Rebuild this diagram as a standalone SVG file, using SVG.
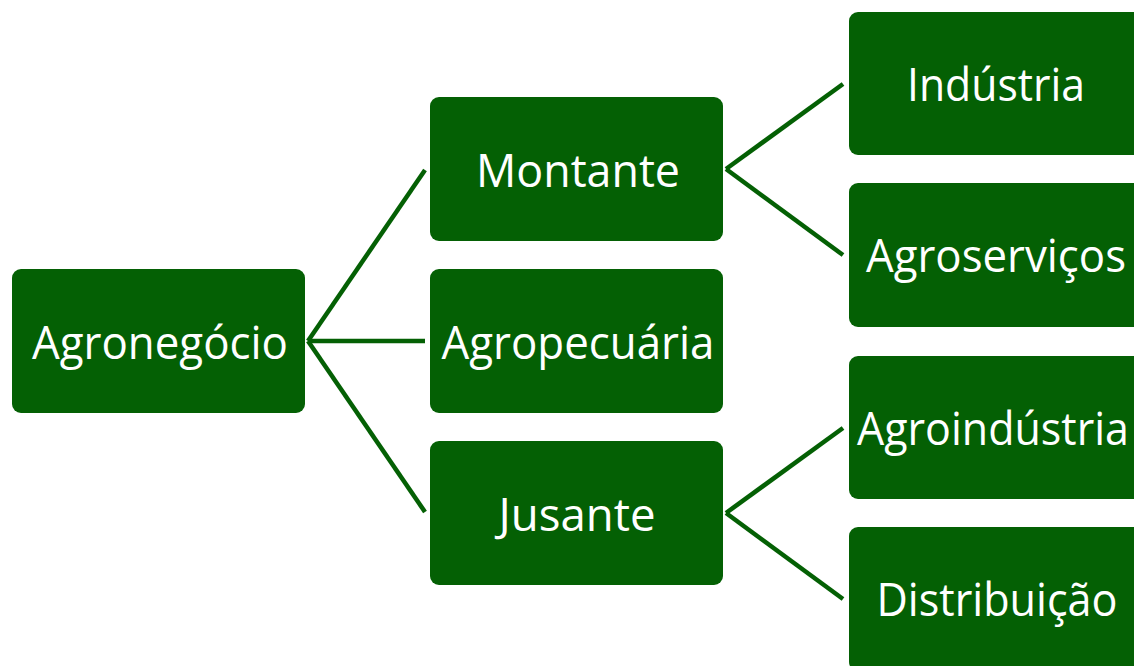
<svg xmlns="http://www.w3.org/2000/svg" width="1134" height="666" viewBox="0 0 1134 666">
<style>
.box{fill:#046004;}
.lbl{fill:#ffffff;font-family:"Open Sans","Liberation Sans",sans-serif;font-size:45px;text-anchor:middle;}
.conn{stroke:#046004;stroke-width:4.5;fill:none;}
</style>
<rect width="1134" height="666" fill="#ffffff"/>
<g id="connectors">
<line class="conn" x1="308" y1="341" x2="425" y2="170"/>
<line class="conn" x1="308" y1="341" x2="425" y2="341"/>
<line class="conn" x1="308" y1="341" x2="425" y2="512"/>
<line class="conn" x1="726" y1="169" x2="843" y2="84"/>
<line class="conn" x1="726" y1="169" x2="843" y2="255"/>
<line class="conn" x1="726" y1="513" x2="843" y2="428"/>
<line class="conn" x1="726" y1="513" x2="843" y2="599"/>
</g>
<g id="agronegocio"><rect class="box" x="12" y="269" width="293" height="144" rx="9"/><text class="lbl" x="160" y="359" textLength="256" lengthAdjust="spacingAndGlyphs">Agronegócio</text></g>
<g id="montante"><rect class="box" x="430" y="97" width="293" height="144" rx="9"/><text class="lbl" x="578" y="187" textLength="204" lengthAdjust="spacingAndGlyphs">Montante</text></g>
<g id="agropecuaria"><rect class="box" x="430" y="269" width="293" height="144" rx="9"/><text class="lbl" x="578" y="359" textLength="273" lengthAdjust="spacingAndGlyphs">Agropecuária</text></g>
<g id="jusante"><rect class="box" x="430" y="441" width="293" height="144" rx="9"/><text class="lbl" x="577" y="531" textLength="157" lengthAdjust="spacingAndGlyphs">Jusante</text></g>
<g id="industria"><rect class="box" x="849" y="12" width="293" height="143" rx="9"/><text class="lbl" x="996" y="101" textLength="178" lengthAdjust="spacingAndGlyphs">Indústria</text></g>
<g id="agroservicos"><rect class="box" x="849" y="183" width="293" height="144" rx="9"/><text class="lbl" x="996" y="272" textLength="260" lengthAdjust="spacingAndGlyphs">Agroserviços</text></g>
<g id="agroindustria"><rect class="box" x="849" y="356" width="293" height="143" rx="9"/><text class="lbl" x="993" y="445" textLength="272" lengthAdjust="spacingAndGlyphs">Agroindústria</text></g>
<g id="distribuicao"><rect class="box" x="849" y="527" width="293" height="144" rx="9"/><text class="lbl" x="997" y="616" textLength="241" lengthAdjust="spacingAndGlyphs">Distribuição</text></g>
</svg>
